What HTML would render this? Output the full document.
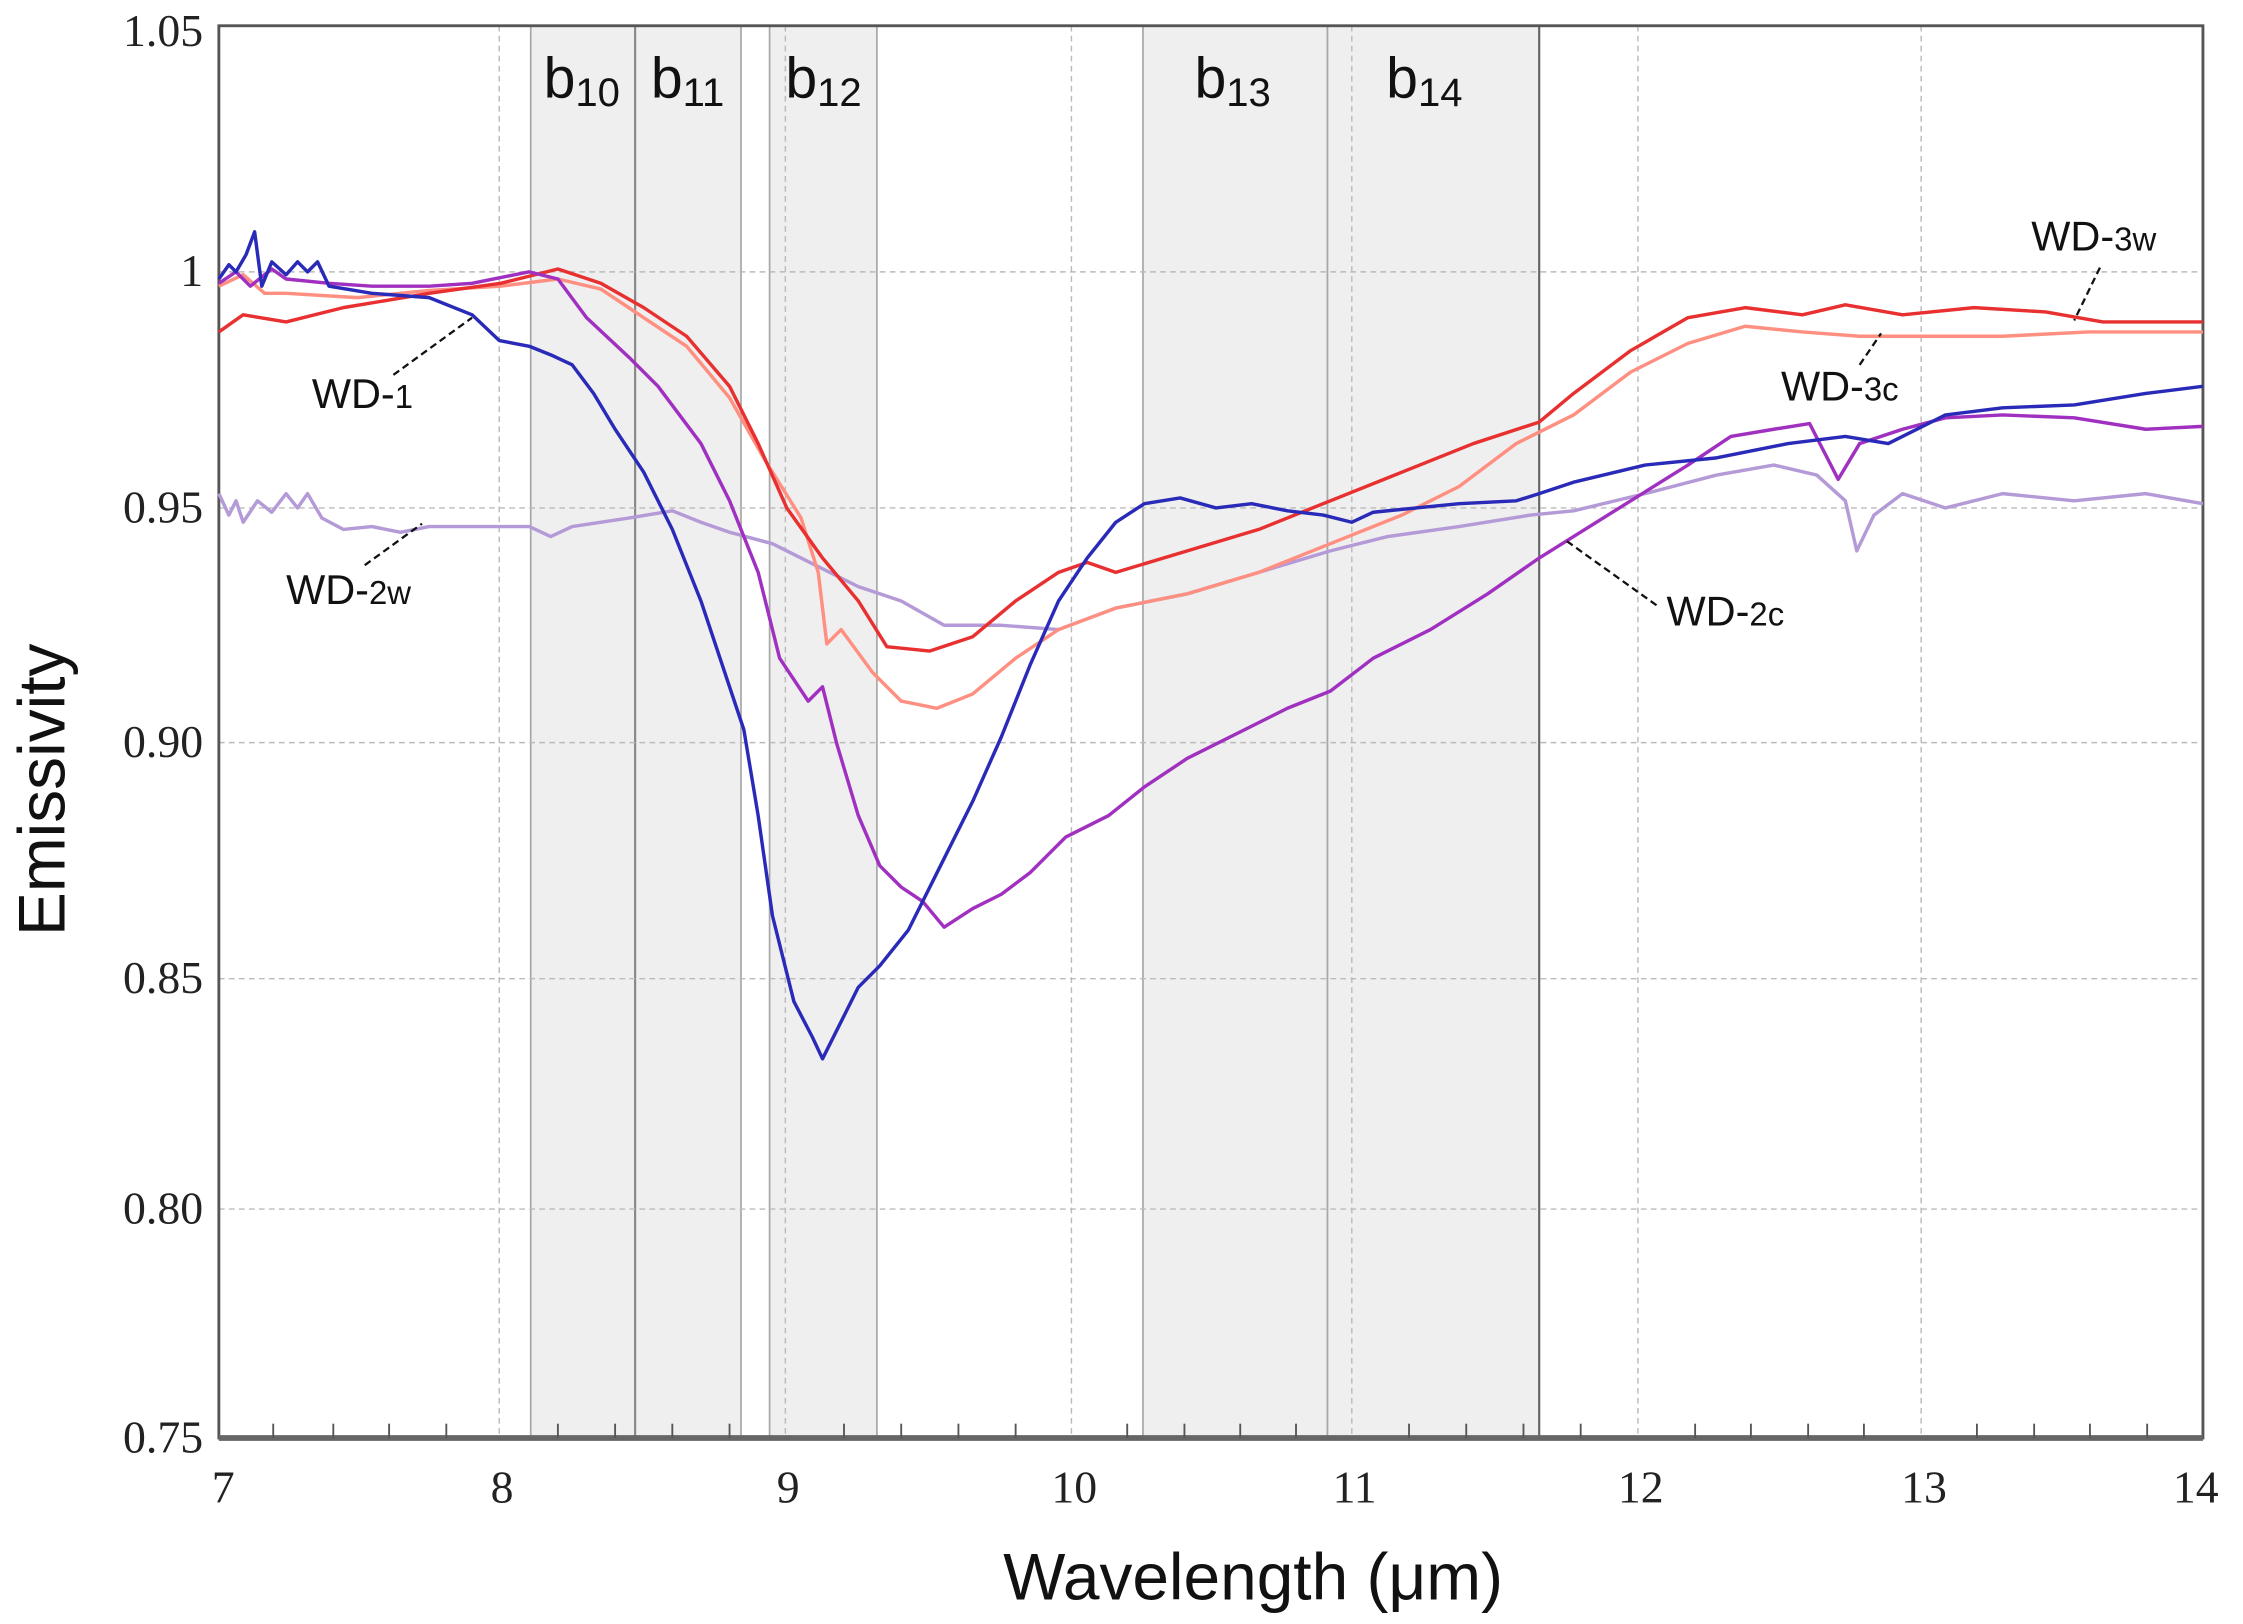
<!DOCTYPE html>
<html><head><meta charset="utf-8"><style>
html,body{margin:0;padding:0;background:#fff;}
svg{display:block;}
.tl{font-family:"Liberation Serif",serif;font-size:32px;fill:#222;}
.lab{font-family:"Liberation Sans",sans-serif;fill:#111;}
</style></head><body>
<svg width="2243" height="1624" viewBox="0 0 1568 1135" preserveAspectRatio="none" xmlns="http://www.w3.org/2000/svg">
<rect width="1568" height="1135" fill="#fff"/>
<g fill="#efefef" stroke="#a8a8a8" stroke-width="1.2">
<rect x="371" y="18" width="73" height="987"/>
<rect x="444" y="18" width="74" height="987"/>
<rect x="538" y="18" width="75" height="987"/>
<rect x="799" y="18" width="129" height="987"/>
<rect x="928" y="18" width="148" height="987"/>
</g>
<line x1="1076" y1="18" x2="1076" y2="1005" stroke="#666" stroke-width="1.5"/>
<line x1="444" y1="18" x2="444" y2="1005" stroke="#888" stroke-width="1.5"/>
<g stroke="#bbb" stroke-width="1" stroke-dasharray="4,3">
<line x1="153" y1="190" x2="1540" y2="190"/>
<line x1="153" y1="355" x2="1540" y2="355"/>
<line x1="153" y1="519" x2="1540" y2="519"/>
<line x1="153" y1="684" x2="1540" y2="684"/>
<line x1="153" y1="845" x2="1540" y2="845"/>
<line x1="349" y1="18" x2="349" y2="1005"/>
<line x1="549" y1="18" x2="549" y2="1005"/>
<line x1="749" y1="18" x2="749" y2="1005"/>
<line x1="945" y1="18" x2="945" y2="1005"/>
<line x1="1145" y1="18" x2="1145" y2="1005"/>
<line x1="1343" y1="18" x2="1343" y2="1005"/>
</g>
<rect x="153" y="18" width="1387" height="987" fill="none" stroke="#555" stroke-width="2"/>
<line x1="153" y1="1005" x2="1540" y2="1005" stroke="#666" stroke-width="4"/>
<g class="lab" font-size="40">
<text x="380" y="68">b<tspan font-size="28" dy="6">10</tspan></text>
<text x="455" y="68">b<tspan font-size="28" dy="6">11</tspan></text>
<text x="549" y="68">b<tspan font-size="28" dy="6">12</tspan></text>
<text x="835" y="68">b<tspan font-size="28" dy="6">13</tspan></text>
<text x="969" y="68">b<tspan font-size="28" dy="6">14</tspan></text>
</g>
<g fill="none" stroke-width="2.4" stroke-linejoin="round">
<polyline stroke="#b49ad6" points="153,345 160,360 165,350 170,365 180,350 190,358 200,345 208,355 215,345 225,362 240,370 260,368 280,372 300,368 330,368 370,368 385,375 400,368 440,362 470,357 490,365 510,372 540,380 570,395 600,410 630,420 660,437 700,437 740,440 780,425 830,415 880,400 930,385 970,375 1020,368 1070,360 1100,357 1150,345 1200,332 1240,325 1270,332 1290,350 1298,385 1310,360 1330,345 1360,355 1400,345 1450,350 1500,345 1540,352"/>
<polyline stroke="#ff8f80" points="153,200 170,192 185,205 200,205 250,208 300,203 350,200 390,195 420,202 450,222 480,242 510,278 535,322 560,362 572,400 578,450 588,440 610,470 630,490 655,495 680,485 710,460 740,440 780,425 830,415 880,400 930,380 980,360 1020,340 1060,310 1100,290 1140,260 1180,240 1220,228 1260,232 1300,235 1350,235 1400,235 1460,232 1540,232"/>
<polyline stroke="#e83030" points="153,232 170,220 200,225 240,215 300,205 350,198 390,188 420,198 450,215 480,235 510,270 530,310 550,355 575,390 600,420 620,452 650,455 680,445 710,420 740,400 760,393 780,400 830,385 880,370 930,350 980,330 1030,310 1076,295 1100,275 1140,245 1180,222 1220,215 1260,220 1290,213 1330,220 1380,215 1430,218 1470,225 1540,225"/>
<polyline stroke="#a030c0" points="153,198 165,190 175,200 190,188 200,195 230,198 260,200 300,200 330,198 370,190 390,195 410,222 440,250 460,270 490,310 510,350 530,400 545,460 565,490 575,480 585,520 600,570 615,605 630,620 645,630 660,648 680,635 700,625 720,610 745,585 775,570 800,550 830,530 870,510 900,495 930,483 960,460 1000,440 1040,415 1076,390 1100,375 1140,350 1180,325 1210,305 1240,300 1265,296 1285,335 1300,310 1330,300 1360,292 1400,290 1450,292 1500,300 1540,298"/>
<polyline stroke="#2a2ab8" points="153,195 160,185 165,190 172,178 178,162 183,200 190,183 200,192 208,183 215,190 222,183 230,200 260,205 300,208 330,220 349,238 370,242 385,248 400,255 415,275 430,300 450,330 470,370 490,420 510,480 520,510 530,570 540,640 555,700 568,725 575,740 585,720 600,690 615,675 635,650 655,610 680,560 700,515 720,465 740,420 760,390 780,365 800,352 825,348 850,355 875,352 900,357 925,360 945,365 960,358 990,355 1020,352 1060,350 1076,345 1100,337 1150,325 1200,320 1250,310 1290,305 1320,310 1360,290 1400,285 1450,283 1500,275 1540,270"/>
</g>
<g stroke="#111" stroke-width="1.6" stroke-dasharray="5,3">
<line x1="275" y1="262" x2="330" y2="222"/>
<line x1="255" y1="395" x2="295" y2="366"/>
<line x1="1468" y1="187" x2="1450" y2="224"/>
<line x1="1300" y1="255" x2="1315" y2="233"/>
<line x1="1158" y1="423" x2="1095" y2="378"/>
</g>
<g class="lab" font-size="29">
<text x="218" y="285">WD-<tspan font-size="23">1</tspan></text>
<text x="200" y="422">WD-<tspan font-size="23">2w</tspan></text>
<text x="1420" y="175">WD-<tspan font-size="23">3w</tspan></text>
<text x="1245" y="280">WD-<tspan font-size="23">3c</tspan></text>
<text x="1165" y="437">WD-<tspan font-size="23">2c</tspan></text>
</g>
<g class="tl" text-anchor="end">
<text x="142" y="32">1.05</text>
<text x="142" y="200">1</text>
<text x="142" y="365">0.95</text>
<text x="142" y="529">0.90</text>
<text x="142" y="694">0.85</text>
<text x="142" y="855">0.80</text>
<text x="142" y="1015">0.75</text>
</g>
<g class="tl" text-anchor="middle">
<text x="156" y="1050">7</text>
<text x="351" y="1050">8</text>
<text x="551" y="1050">9</text>
<text x="751" y="1050">10</text>
<text x="947" y="1050">11</text>
<text x="1147" y="1050">12</text>
<text x="1345" y="1050">13</text>
<text x="1535" y="1050">14</text>
</g>
<text class="lab" font-size="46" x="876" y="1118" text-anchor="middle">Wavelength (μm)</text>
<text class="lab" font-size="46" transform="translate(45,552) rotate(-90)" text-anchor="middle">Emissivity</text>
<g stroke="#555" stroke-width="1.3">
<line x1="191" y1="1005" x2="191" y2="995"/><line x1="233" y1="1005" x2="233" y2="995"/><line x1="272" y1="1005" x2="272" y2="995"/><line x1="312" y1="1005" x2="312" y2="995"/>
<line x1="390" y1="1005" x2="390" y2="995"/><line x1="430" y1="1005" x2="430" y2="995"/><line x1="470" y1="1005" x2="470" y2="995"/><line x1="510" y1="1005" x2="510" y2="995"/>
<line x1="590" y1="1005" x2="590" y2="995"/><line x1="630" y1="1005" x2="630" y2="995"/><line x1="670" y1="1005" x2="670" y2="995"/><line x1="710" y1="1005" x2="710" y2="995"/>
<line x1="788" y1="1005" x2="788" y2="995"/><line x1="828" y1="1005" x2="828" y2="995"/><line x1="867" y1="1005" x2="867" y2="995"/><line x1="906" y1="1005" x2="906" y2="995"/>
<line x1="985" y1="1005" x2="985" y2="995"/><line x1="1025" y1="1005" x2="1025" y2="995"/><line x1="1065" y1="1005" x2="1065" y2="995"/><line x1="1105" y1="1005" x2="1105" y2="995"/>
<line x1="1185" y1="1005" x2="1185" y2="995"/><line x1="1224" y1="1005" x2="1224" y2="995"/><line x1="1264" y1="1005" x2="1264" y2="995"/><line x1="1303" y1="1005" x2="1303" y2="995"/>
<line x1="1382" y1="1005" x2="1382" y2="995"/><line x1="1422" y1="1005" x2="1422" y2="995"/><line x1="1461" y1="1005" x2="1461" y2="995"/><line x1="1501" y1="1005" x2="1501" y2="995"/>
</g>
</svg>
</body></html>
